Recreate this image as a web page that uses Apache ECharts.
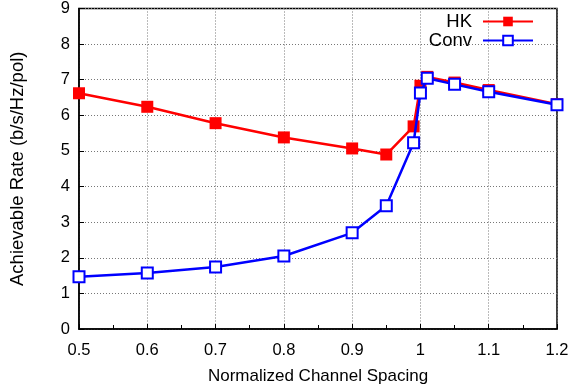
<!DOCTYPE html>
<html>
<head>
<meta charset="utf-8">
<script src="https://cdn.jsdelivr.net/npm/echarts@6/dist/echarts.min.js"></script>
<style>
    html, body { margin: 0; padding: 0; background: #fff; }
    #chart { width: 579px; height: 391px; }
</style>
</head>
<body>
<div id="chart"></div>
<script>
// channel spacing (x) and achievable rate per scheme
var spacing = [0.5, 0.6, 0.7, 0.8, 0.9, 0.95, 0.99, 1.0, 1.01, 1.05, 1.1, 1.2];
var hkRate = [6.62, 6.24, 5.78, 5.38, 5.07, 4.9, 5.69, 6.83, 7.08, 6.92, 6.71, 6.31];
var convRate = [1.47, 1.57, 1.74, 2.05, 2.7, 3.46, 5.23, 6.63, 7.04, 6.87, 6.66, 6.3];
var seriesNames = ['HK', 'Conv'];

function pairs(xs, ys) {
    return xs.map(function (x, i) { return [x, ys[i]]; });
}

var chart = echarts.init(document.getElementById('chart'));

var fontFamily = 'Liberation Sans, Arial, sans-serif';
var gridLine = { show: true, lineStyle: { color: '#777', type: [1, 2], width: 1 } };

option = {
    animation: false,
    textStyle: { fontFamily: fontFamily },
    grid: {
        left: 78, right: 22, top: 7, bottom: 62,
        show: true,
        borderColor: '#000',
        borderWidth: 1.5
    },
    legend: {
        data: seriesNames,
        orient: 'vertical',
        align: 'right',
        right: 40,
        top: 7,
        itemWidth: 50,
        itemHeight: 12,
        itemGap: 0,
        textStyle: {
            fontSize: 18.5, lineHeight: 16, color: '#000',
            fontFamily: fontFamily, padding: [0, 6, 0, 0]
        }
    },
    xAxis: {
        type: 'value',
        min: 0.5,
        max: 1.2,
        interval: 0.1,
        name: 'Normalized Channel Spacing',
        nameLocation: 'middle',
        nameGap: 39,
        nameTextStyle: { fontSize: 17, color: '#000' },
        axisLine: { show: true, lineStyle: { color: '#000', width: 1.5 } },
        axisTick: { show: true, inside: true, length: 5, lineStyle: { color: '#000' } },
        minorTick: { show: true, splitNumber: 2, length: 4, lineStyle: { color: '#000' } },
        axisLabel: { fontSize: 16.5, color: '#000', margin: 13 },
        splitLine: gridLine
    },
    yAxis: {
        type: 'value',
        min: 0,
        max: 9,
        interval: 1,
        name: 'Achievable Rate (b/s/Hz/pol)',
        nameLocation: 'middle',
        nameGap: 52,
        nameTextStyle: { fontSize: 18.5, color: '#000' },
        axisLine: { show: true, lineStyle: { color: '#000', width: 1.5 } },
        axisTick: { show: true, inside: true, length: 5, lineStyle: { color: '#000' } },
        axisLabel: { fontSize: 16.5, color: '#000', margin: 9 },
        splitLine: gridLine
    },
    series: [
        {
            name: 'HK',
            type: 'line',
            data: pairs(spacing, hkRate),
            symbol: 'rect',
            symbolSize: 12,
            lineStyle: { color: '#ff0000', width: 2.5 },
            itemStyle: { color: '#ff0000' },
            z: 2
        },
        {
            name: 'Conv',
            type: 'line',
            data: pairs(spacing, convRate),
            symbol: 'emptyRect',
            symbolSize: 11,
            lineStyle: { color: '#0000ff', width: 2.5 },
            itemStyle: { color: '#0000ff', borderWidth: 2, borderColor: '#0000ff' },
            z: 3
        }
    ]
};

chart.setOption(option);
</script>
</body>
</html>
